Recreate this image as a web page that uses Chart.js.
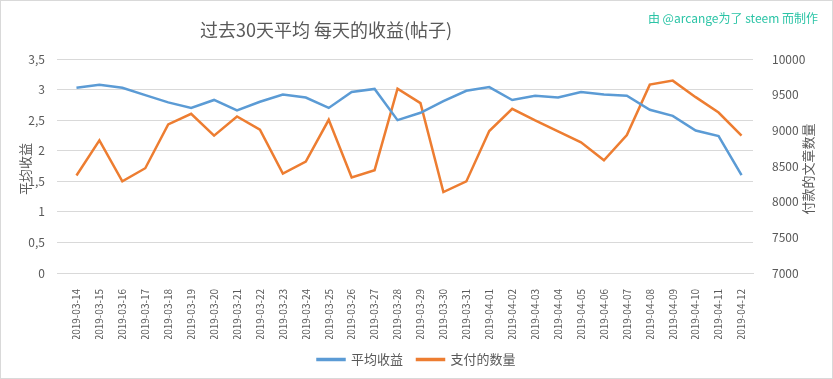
<!DOCTYPE html>
<html lang="zh">
<head>
    <meta charset="UTF-8">
    <title>过去30天平均 每天的收益(帖子)</title>
    <script src="https://cdn.jsdelivr.net/npm/chart.js"></script>
    <style>
        body { margin: 0; background: #fff; }
        #wrap { position: relative; width: 833px; height: 379px; }
    </style>
</head>
<body>
    <div id="wrap"><canvas id="revenueChart"></canvas></div>

    <script>
        const dates = [
            '2019-03-14', '2019-03-15', '2019-03-16', '2019-03-17', '2019-03-18', '2019-03-19',
            '2019-03-20', '2019-03-21', '2019-03-22', '2019-03-23', '2019-03-24', '2019-03-25',
            '2019-03-26', '2019-03-27', '2019-03-28', '2019-03-29', '2019-03-30', '2019-03-31',
            '2019-04-01', '2019-04-02', '2019-04-03', '2019-04-04', '2019-04-05', '2019-04-06',
            '2019-04-07', '2019-04-08', '2019-04-09', '2019-04-10', '2019-04-11', '2019-04-12'
        ];
        const avgRevenue = [
            3.03, 3.08, 3.03, 2.91, 2.79, 2.70, 2.83, 2.66, 2.80, 2.92,
            2.87, 2.70, 2.96, 3.01, 2.50, 2.62, 2.81, 2.98, 3.04, 2.83,
            2.90, 2.87, 2.96, 2.92, 2.90, 2.67, 2.57, 2.33, 2.24, 1.60
        ];
        const paidPosts = [
            8367, 8860, 8284, 8469, 9083, 9232, 8925, 9195, 9009, 8395,
            8562, 9148, 8339, 8441, 9585, 9381, 8135, 8284, 8990, 9302,
            9139, 8986, 8832, 8581, 8935, 9641, 9697, 9465, 9250, 8925
        ];
        const titleText = '过去30天平均 每天的收益(帖子)';
        const creditText = '由 @arcange为了 steem 而制作';
        const leftAxisTitle = '平均收益';
        const rightAxisTitle = '付款的文章数量';

        const FONT = '"Noto Sans CJK SC", "Noto Sans", sans-serif';
        const GREY = '#595959';

        // title, credit, axis titles and frame
        const decorations = {
            id: 'decorations',
            afterDraw(chart) {
                const ctx = chart.ctx;
                const area = chart.chartArea;
                const midY = (area.top + area.bottom) / 2;
                ctx.save();
                ctx.strokeStyle = '#d9d9d9';
                ctx.lineWidth = 1;
                ctx.strokeRect(0.5, 0.5, chart.width - 1, chart.height - 1);

                ctx.fillStyle = GREY;
                ctx.font = '18px ' + FONT;
                ctx.textAlign = 'center';
                ctx.textBaseline = 'middle';
                ctx.fillText(titleText, 326, 30);

                ctx.fillStyle = '#2bc4a6';
                ctx.font = '12px ' + FONT;
                ctx.textAlign = 'right';
                ctx.fillText(creditText, 818, 18);

                ctx.fillStyle = GREY;
                ctx.font = '13px ' + FONT;
                ctx.textAlign = 'center';
                ctx.translate(25, midY + 3);
                ctx.rotate(-Math.PI / 2);
                ctx.fillText(leftAxisTitle, 0, 0);
                ctx.restore();

                ctx.save();
                ctx.fillStyle = GREY;
                ctx.font = '13px ' + FONT;
                ctx.textAlign = 'center';
                ctx.textBaseline = 'middle';
                ctx.translate(808, midY + 3);
                ctx.rotate(-Math.PI / 2);
                ctx.fillText(rightAxisTitle, 0, 0);
                ctx.restore();
            }
        };

        const ctx = document.getElementById('revenueChart').getContext('2d');
        new Chart(ctx, {
            type: 'line',
            data: {
                labels: dates,
                datasets: [{
                    label: '平均收益',
                    data: avgRevenue,
                    yAxisID: 'y',
                    borderColor: '#5b9bd5',
                    backgroundColor: '#5b9bd5',
                    borderWidth: 2.5,
                    pointRadius: 0,
                    tension: 0,
                    fill: false
                }, {
                    label: '支付的数量',
                    data: paidPosts,
                    yAxisID: 'y1',
                    borderColor: '#ed7d31',
                    backgroundColor: '#ed7d31',
                    borderWidth: 2.5,
                    pointRadius: 0,
                    tension: 0,
                    fill: false
                }]
            },
            options: {
                responsive: true,
                maintainAspectRatio: false,
                animation: false,
                layout: { padding: { top: 59, left: 0, right: 0, bottom: 3 } },
                plugins: {
                    legend: {
                        position: 'bottom',
                        labels: {
                            font: { family: FONT, size: 13 },
                            color: GREY,
                            boxWidth: 27,
                            boxHeight: 1,
                            padding: 14
                        }
                    },
                    tooltip: { enabled: false }
                },
                scales: {
                    x: {
                        offset: true,
                        grid: { display: false },
                        border: { color: '#d9d9d9' },
                        ticks: {
                            color: GREY,
                            font: { family: FONT, size: 10 },
                            minRotation: 90,
                            maxRotation: 90,
                            padding: 8,
                            autoSkip: false
                        },
                        afterFit(scale) { scale.height = 66; }
                    },
                    y: {
                        position: 'left',
                        min: 0,
                        max: 3.5,
                        grid: { color: '#d9d9d9' },
                        border: { display: false },
                        ticks: {
                            stepSize: 0.5,
                            color: GREY,
                            padding: 12,
                            font: { family: FONT, size: 12 },
                            callback: v => String(v).replace('.', ',')
                        },
                        afterFit(scale) { scale.width = 65; }
                    },
                    y1: {
                        position: 'right',
                        min: 7000,
                        max: 10000,
                        grid: { display: false },
                        border: { display: false },
                        ticks: {
                            stepSize: 500,
                            color: GREY,
                            padding: 11,
                            font: { family: FONT, size: 12 },
                            callback: v => String(v)
                        },
                        afterFit(scale) { scale.width = 80; }
                    }
                }
            },
            plugins: [decorations]
        });
    </script>
</body>
</html>
